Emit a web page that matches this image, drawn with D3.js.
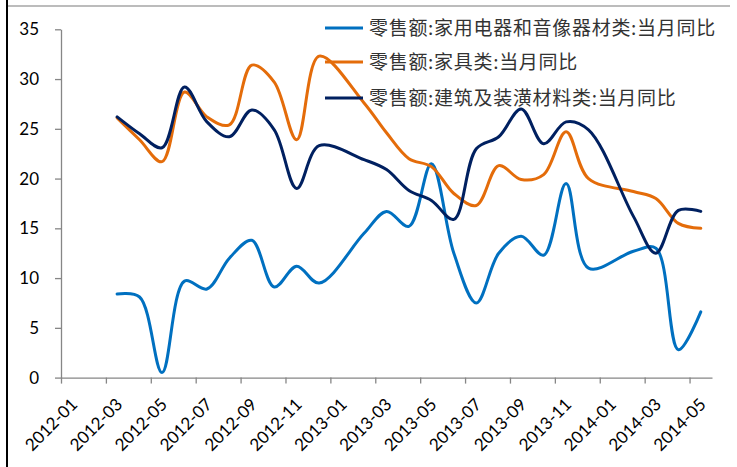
<!DOCTYPE html>
<html lang="zh">
<head>
<meta charset="utf-8">
<script src="https://cdnjs.cloudflare.com/ajax/libs/d3/7.8.5/d3.min.js"></script>
<style>
	body{ margin:0; background:#fff; }
	.axis path, .axis line{ stroke:#868686; stroke-width:1.3; }
	.axis text{ font-family: Lato, "Liberation Sans", sans-serif; font-size:17px; fill:#000; }
	.legend text{ font-family: "Noto Sans CJK SC", sans-serif; font-size:19px; fill:#333; letter-spacing:0.7px; }
</style>
</head>
<body>
<svg id="chart" width="737" height="467"></svg>
<script>
	// monthly data, Jan values are not published (null)
	const months = ["2012-03","2012-04","2012-05","2012-06","2012-07","2012-08","2012-09","2012-10","2012-11","2012-12",
		"2013-01","2013-02","2013-03","2013-04","2013-05","2013-06","2013-07","2013-08","2013-09","2013-10","2013-11","2013-12",
		"2014-01","2014-02","2014-03","2014-04","2014-05"];
	const appliances = [8.4,8.1,0.5,9.7,8.9,12.0,13.8,9.1,11.2,9.5, null,14.5,16.7,15.2,21.5,12.5,7.5,12.5,14.2,12.3,19.5,11.0, null,12.7,13.0,2.8,6.6];
	const furniture  = [26.1,23.9,21.7,28.7,26.2,25.4,31.4,29.7,23.9,32.3, null,27.6,24.6,22.0,21.2,18.5,17.3,21.3,19.9,20.4,24.7,20.0, null,18.7,18.0,15.5,15.0];
	const building   = [26.2,24.5,23.1,29.2,25.7,24.2,26.9,24.9,19.0,23.3, null,21.9,20.9,18.8,17.8,15.9,23.0,24.2,27.0,23.5,25.7,24.9, null,16.2,12.5,16.8,16.7];
	const seriesNames = ["零售额:家用电器和音像器材类:当月同比","零售额:家具类:当月同比","零售额:建筑及装潢材料类:当月同比"];
	const tickLabels = ["2012-01","2012-03","2012-05","2012-07","2012-09","2012-11","2013-01","2013-03","2013-05","2013-07","2013-09","2013-11","2014-01","2014-03","2014-05"];
	const yTicks = [0,5,10,15,20,25,30,35];

	const colors = ["#0070C0","#E46C0A","#002060"];
	const svg = d3.select('#chart');

	// frame pieces of the original page
	svg.append('line').attr('x1',8).attr('x2',730).attr('y1',6).attr('y2',6)
		.attr('stroke','#a6a6a6').attr('stroke-width',1.5);
	svg.append('line').attr('x1',7).attr('x2',7).attr('y1',0).attr('y2',467)
		.attr('stroke','#000').attr('stroke-width',2);

	const monthIndex = s => (+s.slice(0,4) - 2012) * 12 + (+s.slice(5,7) - 1);

	const x = d3.scaleLinear().domain([0, 29]).range([61, 712]);
	const y = d3.scaleLinear().domain([0, 35]).range([377.6, 29.3]);

	// y axis
	svg.append('g').attr('class','axis')
		.attr('transform','translate(61,0)')
		.call(d3.axisLeft(y).tickValues(yTicks).tickSize(6).tickSizeOuter(0).tickPadding(16));

	// x axis
	const xAxis = svg.append('g').attr('class','axis')
		.attr('transform','translate(0,' + y(0) + ')')
		.call(d3.axisBottom(x)
			.tickValues(tickLabels.map(monthIndex))
			.tickSize(6).tickSizeOuter(0)
			.tickFormat(i => tickLabels.find(t => monthIndex(t) === i)));
	xAxis.selectAll('.tick text')
		.attr('text-anchor','end')
		.attr('dy', 0)
		.attr('y', 0)
		.attr('transform','translate(17,28) rotate(-45)');

	// lines
	const line = d3.line()
		.x(d => x(monthIndex(d.m) + 0.5))
		.y(d => y(d.v))
		.curve(d3.curveCatmullRom.alpha(0.5));

	[appliances, furniture, building].forEach((vals, k) => {
		const pts = months.map((m, i) => ({m: m, v: vals[i]})).filter(d => d.v !== null);
		svg.append('path')
			.datum(pts)
			.attr('d', line)
			.attr('fill','none')
			.attr('stroke', colors[k])
			.attr('stroke-width', 3)
			.attr('stroke-linejoin','round')
			.attr('stroke-linecap','round');
	});

	// legend
	const legend = svg.append('g').attr('class','legend');
	const items = legend.selectAll('g').data(seriesNames).enter().append('g')
		.attr('transform', (d, i) => 'translate(325,' + [28, 62, 98][i] + ')');
	items.append('line').attr('x1',0).attr('x2',38).attr('y1',0).attr('y2',0)
		.attr('stroke', (d, i) => colors[i]).attr('stroke-width',3);
	items.append('text').attr('x',44).attr('dy','0.35em').text(d => d);
</script>
</body>
</html>
